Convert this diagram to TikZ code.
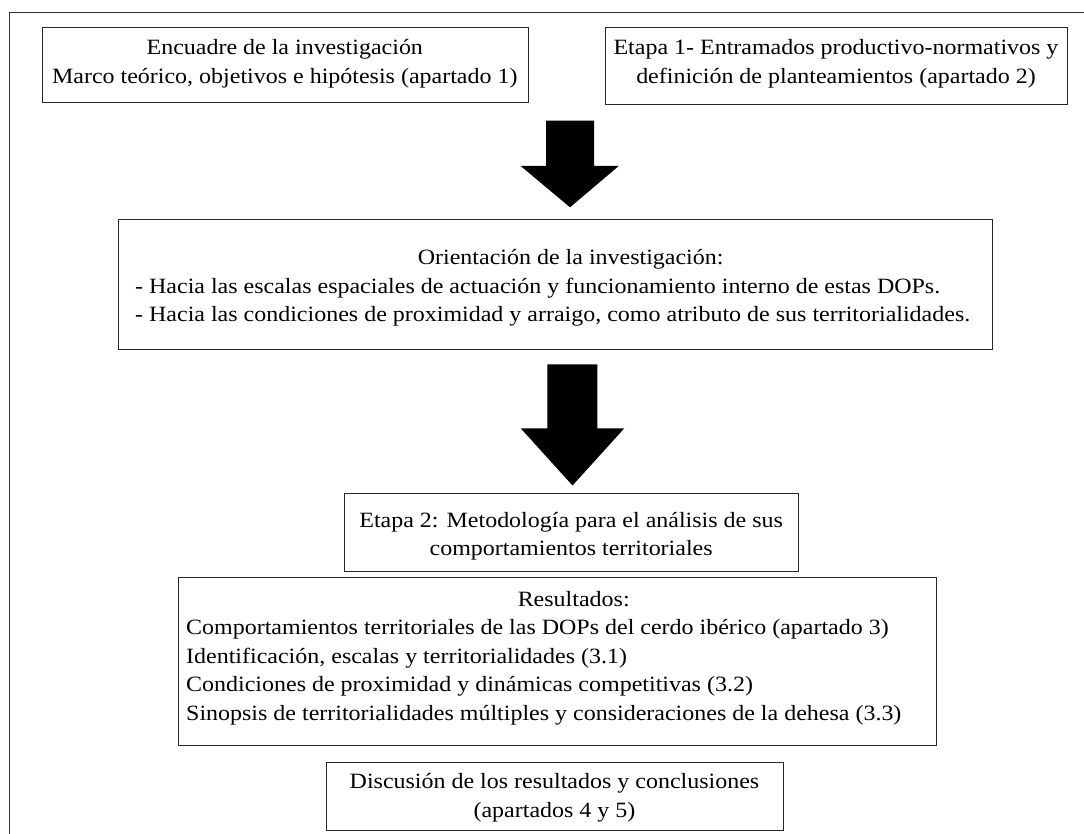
\documentclass[tikz,border=0pt]{standalone}
\usepackage{fontspec}
\setmainfont{Liberation Serif}[FakeStretch=1.1]
\usetikzlibrary{calc}
\begin{document}
\begin{tikzpicture}[x=1pt,y=-1pt,
  boxnode/.style={draw=black!85,line width=1pt,inner sep=0pt,anchor=north west},
  txt/.style={inner sep=0pt,anchor=base west,font=\fontsize{21.8}{28.3}\selectfont},
  blockarrow/.style={fill=black,draw=none},
  frame/.style={draw=black!80,line width=1.4pt}]
\useasboundingbox (0,0) rectangle (1084,834);
\fill[white] (0,0) rectangle (1084,834);
\draw[frame] (9.3,900) -- (9.3,12.7) -- (1200,12.7);

% boxes
\node[boxnode,minimum width=485.8pt,minimum height=75.6pt] (b1) at (41.7,26.7) {};
\node[boxnode,minimum width=462.4pt,minimum height=77.6pt] (b2) at (604.6,26.7) {};
\node[boxnode,minimum width=873.4pt,minimum height=130.3pt] (b3) at (118.3,219) {};
\node[boxnode,minimum width=454.1pt,minimum height=78pt] (b4) at (343.9,492.7) {};
\node[boxnode,minimum width=757.7pt,minimum height=168.3pt] (b5) at (178,576.7) {};
\node[boxnode,minimum width=456.6pt,minimum height=68pt] (b6) at (326,762) {};

% texts
\node[txt] (t1) at (41.7,55) {\parbox[t]{485.8pt}{\centering Encuadre de la investigación\\Marco teórico, objetivos e hipótesis (apartado 1)}};
\node[txt] (t2) at (604.6,55) {\parbox[t]{462.4pt}{\centering Etapa 1- Entramados productivo-normativos y\\definición de planteamientos (apartado 2)}};
\node[txt,font=\fontsize{21.8}{28.5}\selectfont] (t3) at (135,265) {\parbox[t]{871pt}{\centering Orientación de la investigación:\par\raggedright
- Hacia las escalas espaciales de actuación y funcionamiento interno de estas DOPs.\\
- Hacia las condiciones de proximidad y arraigo, como atributo de sus territorialidades.}};
\node[txt] (t4) at (343.9,527) {\parbox[t]{454.1pt}{\centering Etapa 2: Metodología para el análisis de sus\\comportamientos territoriales}};
\node[txt,font=\fontsize{21.8}{28.5}\selectfont] (t5) at (186,606) {\parbox[t]{775pt}{\centering Resultados:\par\raggedright
Comportamientos territoriales de las DOPs del cerdo ibérico (apartado 3)\\
Identificación, escalas y territorialidades (3.1)\\
Condiciones de proximidad y dinámicas competitivas (3.2)\\
Sinopsis de territorialidades múltiples y consideraciones de la dehesa (3.3)}};
\node[txt,font=\fontsize{21.8}{29.5}\selectfont] (t6) at (326,788) {\parbox[t]{456.6pt}{\centering Discusión de los resultados y conclusiones\\(apartados 4 y 5)}};

% block arrows
\fill[blockarrow] (546,120.7) -- (594,120.7) -- (594,166) -- (618.7,166) -- (570,207.3) -- (520.7,166) -- (546,166) -- cycle;
\fill[blockarrow] (547.3,364.3) -- (597.3,364.3) -- (597.3,428.3) -- (624.3,428.3) -- (572.5,485.5) -- (520.7,428.3) -- (547.3,428.3) -- cycle;
\end{tikzpicture}
\end{document}
